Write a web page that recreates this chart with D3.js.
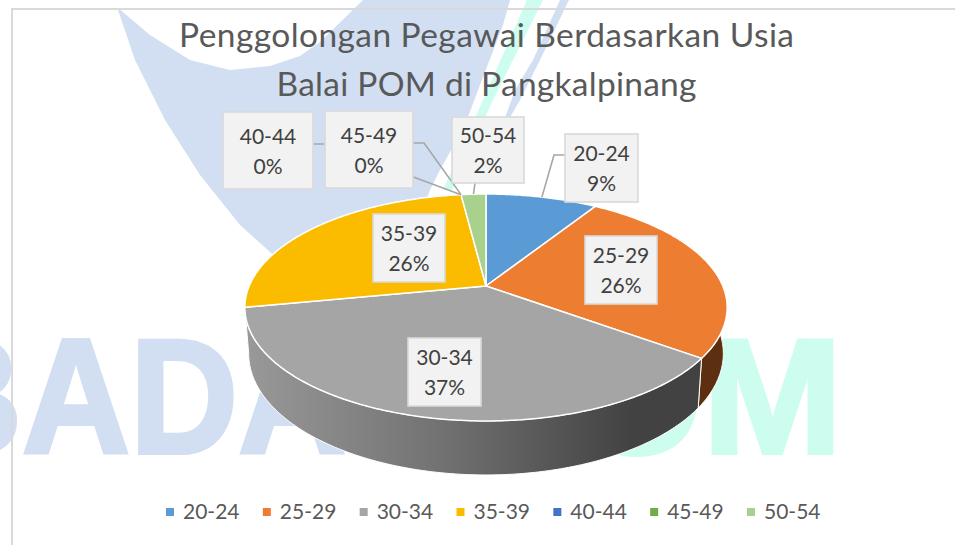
<!DOCTYPE html>
<html>
<head>
<meta charset="utf-8">
<script src="https://cdn.jsdelivr.net/npm/d3@7/dist/d3.min.js"></script>
<style>
html,body{margin:0;padding:0;background:#fff;overflow:hidden}
svg{display:block}
text{font-family:Lato,"Open Sans",sans-serif}
</style>
</head>
<body>
<svg id="chart" width="955" height="545"></svg>
<script>
const titleLines = ["Penggolongan Pegawai Berdasarkan Usia", "Balai POM di Pangkalpinang"];
const categories = ["20-24", "25-29", "30-34", "35-39", "40-44", "45-49", "50-54"];
const values = [9, 26, 37, 26, 0, 0, 2];
const colors = ["#5b9bd5", "#ed7d31", "#a5a5a5", "#fbbc00", "#4472c4", "#70ad47", "#a9d18e"];
const wallColors = ["#2e4e6b", "#5c2f10", "url(#wallGrey)", "#7f6000", "#223962", "#385723", "#556947"];

// layout only
const boxes = {
  "20-24": {x:565,y:134,w:73,h:68,elbow:[[554,155],[565,155]]},
  "25-29": {x:585,y:236,w:72,h:68},
  "30-34": {x:408,y:338,w:73,h:68},
  "35-39": {x:373,y:214,w:72,h:68},
  "40-44": {x:223,y:112,w:90,h:77,elbow:[[325,144],[313,144]]},
  "45-49": {x:325,y:111,w:88,h:77,elbow:[[424,143],[413,143]]},
  "50-54": {x:452,y:117,w:72,h:66,elbow:[[475,183]]}
};
const top_ = {cx:486, cy:286, a:236.8, b:109.4, k:0.1894};
const bottom_ = {cx:486, cy:330.5, a:233, b:117, k:0.19};

const svg = d3.select("#chart");
const color = d3.scaleOrdinal(categories, colors);
const wall = d3.scaleOrdinal(categories, wallColors);

const defs = svg.append("defs");
const grad = defs.append("linearGradient").attr("id","wallGrey")
  .attr("gradientUnits","userSpaceOnUse").attr("x1",250).attr("x2",700).attr("y1",0).attr("y2",0);
[[0,"#989898"],[0.4,"#747474"],[0.85,"#424242"],[1,"#424242"]].forEach(s =>
  grad.append("stop").attr("offset",s[0]).attr("stop-color",s[1]));

// watermark background
const wm = svg.append("g");
const wmPoly = d3.line();
wm.append("path").attr("fill","#d2dff2").attr("d", wmPoly([
  [117,7],[135,60],[165,120],[200,175],[240,225],[290,270],[400,270],[430,190],[440,170],[465,125],[480,85],[503,25],[510,0],
  [363,0],[320,42],[300,56],[270,66],[230,70],[190,60],[150,35]
])+"Z");
wm.append("path").attr("fill","#d2dff2").attr("d", wmPoly([
  [560,0],[569,0],[540,60],[520,100],[497,140],[515,90],[533,60]
])+"Z");
wm.append("path").attr("fill","#ccfdee").attr("d", wmPoly([
  [527,0],[543,0],[493,100],[452,190],[443,190],[483,100]
])+"Z");
wm.append("text").attr("transform","translate(-86,453) scale(0.918,1)")
  .attr("font-size",163).attr("font-weight",700).attr("fill","#d2dff2")
  .attr("stroke","#d2dff2").attr("stroke-width",4)
  .style("font-family","'Liberation Sans'").text("BADAN");
wm.append("text").attr("transform","translate(460,453) scale(1.03,1)")
  .attr("font-size",163).attr("font-weight",700).attr("fill","#ccfdee")
  .attr("stroke","#ccfdee").attr("stroke-width",4)
  .style("font-family","'Liberation Sans'").text("POM");

// chart frame
svg.append("path").attr("d","M12,545V9H955").attr("fill","none").attr("stroke","#d9d9d9").attr("stroke-width",2);

// title
svg.selectAll("text.title").data(titleLines).join("text").attr("class","title")
  .attr("x",486.5).attr("y",(d,i)=>47+i*49)
  .attr("text-anchor","middle").attr("font-size",33.5).attr("fill","#595959")
  .attr("textLength",(d,i)=>i?420:615).attr("lengthAdjust","spacing").text(d=>d);

// pie geometry: angles from d3.pie, perspective applied to the rim
const pie = d3.pie().sort(null).value(d=>d.value).startAngle(0).endAngle(2*Math.PI);
const arcs = pie(categories.map((c,i)=>({category:c,value:values[i]})));
function project(p, ang){
  const u=Math.sin(ang), v=-Math.cos(ang), d=1-p.k*v;
  return [p.cx+p.a*u/d, p.cy+p.b*v/d];
}
function rim(p,a0,a1){
  const n=Math.max(2,Math.ceil((a1-a0)/0.01));
  return d3.range(n+1).map(i=>project(p,a0+(a1-a0)*i/n));
}
const line = d3.line();
const pieG = svg.append("g");

// walls, back to front
const frontness = d => -Math.cos((d.startAngle+d.endAngle)/2);
pieG.selectAll("path.wall").data(arcs.filter(d=>d.value>0).sort((a,b)=>frontness(a)-frontness(b))).join("path").attr("class","wall")
  .attr("fill",d=>wall(d.data.category)).attr("stroke","#fff").attr("stroke-width",1).attr("stroke-linejoin","round")
  .attr("d",d=>line(rim(top_,d.startAngle,d.endAngle).concat(rim(bottom_,d.startAngle,d.endAngle).reverse()))+"Z");

// top faces
pieG.selectAll("path.face").data(arcs.filter(d=>d.value>0)).join("path").attr("class","face")
  .attr("fill",d=>color(d.data.category)).attr("stroke","#fff").attr("stroke-width",1.5).attr("stroke-linejoin","round")
  .attr("d",d=>line([[top_.cx,top_.cy]].concat(rim(top_,d.startAngle,d.endAngle)))+"Z");

// leaders
const lab = svg.append("g");
lab.selectAll("path.leader").data(arcs.filter(d=>boxes[d.data.category].elbow)).join("path").attr("class","leader")
  .attr("fill","none").attr("stroke","#a6a6a6").attr("stroke-width",1.6)
  .attr("d",d=>line([project(top_,(d.startAngle+d.endAngle)/2)].concat(boxes[d.data.category].elbow)));

// boxes & labels
const lg = lab.selectAll("g.lab").data(arcs).join("g").attr("class","lab");
lg.append("rect").attr("x",d=>boxes[d.data.category].x).attr("y",d=>boxes[d.data.category].y)
  .attr("width",d=>boxes[d.data.category].w).attr("height",d=>boxes[d.data.category].h)
  .attr("fill","#f2f2f2").attr("stroke","#d9d9d9").attr("stroke-width",1.6);
const midX=d=>boxes[d.data.category].x+boxes[d.data.category].w/2;
const midY=d=>boxes[d.data.category].y+boxes[d.data.category].h/2;
lg.append("text").attr("x",midX).attr("y",d=>midY(d)-7).attr("text-anchor","middle")
  .attr("font-size",21).attr("fill","#404040").text(d=>d.data.category);
lg.append("text").attr("x",midX).attr("y",d=>midY(d)+23).attr("text-anchor","middle")
  .attr("font-size",21).attr("fill","#404040").text(d=>d.data.value+"%");

// legend
const legendX = d3.scalePoint().domain(categories).range([166,747]);
const leg = svg.selectAll("g.leg").data(categories).join("g").attr("class","leg");
leg.append("rect").attr("x",d=>legendX(d)).attr("y",508).attr("width",8).attr("height",8).attr("fill",d=>color(d));
leg.append("text").attr("x",d=>legendX(d)+17).attr("y",519).attr("font-size",21).attr("fill","#595959").text(d=>d);
</script>
</body>
</html>
